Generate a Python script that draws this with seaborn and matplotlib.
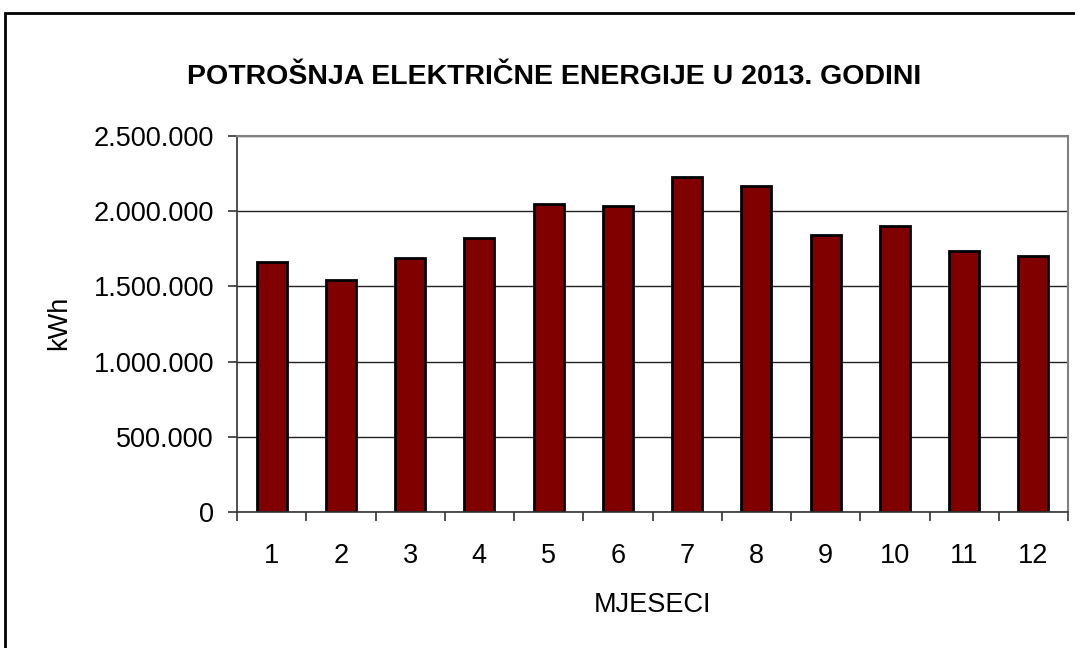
import matplotlib
matplotlib.use("Agg")
import matplotlib.pyplot as plt
import seaborn as sns
import pandas as pd
from matplotlib.ticker import FuncFormatter, MultipleLocator
from matplotlib.patches import Rectangle

months = [1, 2, 3, 4, 5, 6, 7, 8, 9, 10, 11, 12]
consumption_kwh = [1660000, 1541000, 1691000, 1824000, 2048000, 2033000,
                   2227000, 2170000, 1840000, 1900000, 1735000, 1704000]
title = "POTROŠNJA ELEKTRIČNE ENERGIJE U 2013. GODINI"
xlabel = "MJESECI"
ylabel = "kWh"

sns.set_theme(style="white")
plt.rcParams['font.family'] = ['Liberation Sans', 'DejaVu Sans']

df = pd.DataFrame({"month": [str(m) for m in months], "kwh": consumption_kwh})

W, H = 1075, 648
fig = plt.figure(figsize=(W / 100, H / 100), dpi=100)
fig.patch.set_facecolor("white")
L, R, T, B = 237, 1068, 136, 512
ax = fig.add_axes([L / W, 1 - B / H, (R - L) / W, (B - T) / H])

sns.barplot(data=df, x="month", y="kwh", ax=ax, color="#800000",
            edgecolor="black", linewidth=2, width=0.43, saturation=1)

ax.set_ylim(0, 2500000)
ax.set_xlim(-0.5, 11.5)
ax.yaxis.set_major_locator(MultipleLocator(500000))
ax.yaxis.set_major_formatter(FuncFormatter(lambda v, p: f"{int(v):,}".replace(",", ".")))
ax.grid(axis="y", color="#222222", linewidth=1)
ax.set_axisbelow(True)

for s in ["top", "right"]:
    ax.spines[s].set_color("#808080")
    ax.spines[s].set_linewidth(1.5)
for s in ["left", "bottom"]:
    ax.spines[s].set_color("#333333")
    ax.spines[s].set_linewidth(1.2)

# x ticks between categories
ax.set_xticks([i for i in range(12)])
ax.set_xticklabels([str(m) for m in months])
ax.tick_params(axis="x", which="major", length=0, labelsize=19.5, pad=22, colors="black")
ax.set_xticks([i - 0.5 for i in range(13)], minor=True)
ax.tick_params(axis="x", which="minor", length=6.5, width=1.2, color="#333333", direction="out", bottom=True)
ax.tick_params(axis="y", length=6.5, width=1.2, color="#333333", direction="out", left=True,
               labelsize=19.5, pad=10, labelcolor="black")

ax.set_xlabel(xlabel, fontsize=19.5, labelpad=17, color="black")
ax.set_ylabel(ylabel, fontsize=19.5, color="black", va="center")
ax.yaxis.set_label_coords((59 - L) / (R - L), (B - 323) / (B - T))

fig.text(554 / W, 1 - 77 / H, title, ha="center", va="center",
         fontsize=20.5, fontweight="bold", color="black")

fig.patches.append(Rectangle((5 / W, -0.1), 1.2, 1 - 13 / H + 0.1, transform=fig.transFigure,
                             fill=False, edgecolor="black", linewidth=2, zorder=10))

fig.savefig("out.png", dpi=100)
